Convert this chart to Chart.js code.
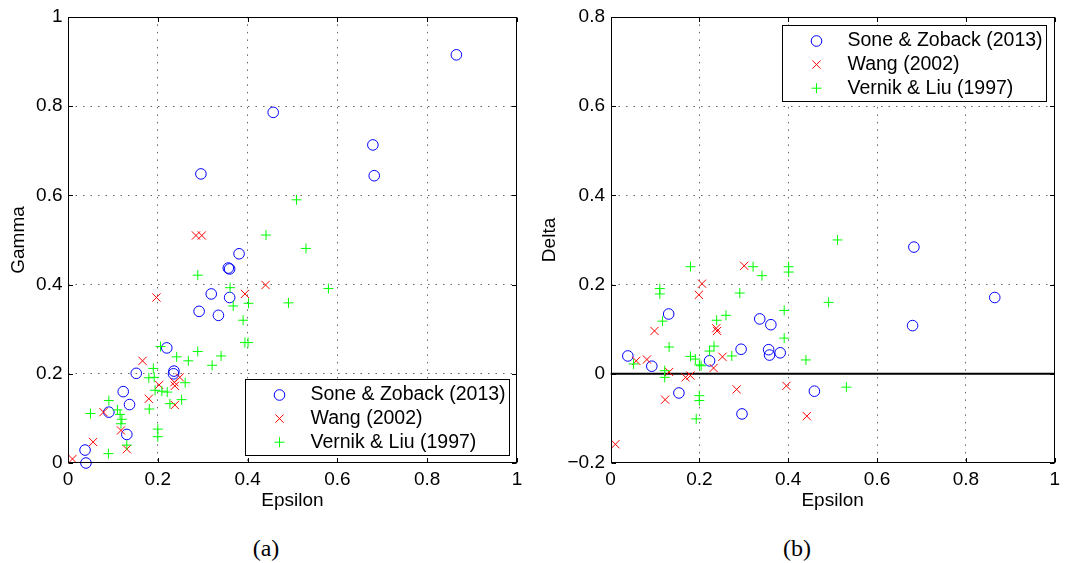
<!DOCTYPE html>
<html>
<head>
<meta charset="utf-8">
<script src="https://cdn.jsdelivr.net/npm/chart.js@4.4.1/dist/chart.umd.min.js"></script>
<style>
  body { margin: 0; background: #fff; width: 1065px; height: 563px; position: relative; overflow: hidden; }
  .panel { position: absolute; top: 0; }
  .caption { position: absolute; font-family: "Liberation Serif", serif; font-size: 24px; transform: translate(-50%, -50%); }
</style>
</head>
<body>
<div class="panel" style="left:0"><canvas id="plotA" width="535" height="520"></canvas></div>
<div class="panel" style="left:535px"><canvas id="plotB" width="530" height="520"></canvas></div>
<div class="caption" style="left:266px;top:548px">(a)</div>
<div class="caption" style="left:797px;top:548px">(b)</div>
<script>
// tick labels
var xTicks = [0, 0.2, 0.4, 0.6, 0.8, 1];
var gammaTicks = [0, 0.2, 0.4, 0.6, 0.8, 1];
var deltaTicks = [-0.2, 0, 0.2, 0.4, 0.6, 0.8];
var seriesNames = ['Sone & Zoback (2013)', 'Wang (2002)', 'Vernik & Liu (1997)'];

// (a) Epsilon / Gamma
var soneEpsA = [0.865, 0.457, 0.679, 0.682, 0.296, 0.381, 0.357, 0.360, 0.319, 0.360, 0.292, 0.335, 0.220, 0.236, 0.235, 0.152, 0.123, 0.137, 0.091, 0.131, 0.038, 0.040];
var soneGamma = [0.915, 0.786, 0.713, 0.644, 0.648, 0.469, 0.437, 0.435, 0.379, 0.371, 0.340, 0.331, 0.258, 0.206, 0.200, 0.201, 0.160, 0.131, 0.114, 0.064, 0.029, 0.000];
var wangEpsA = [0.285, 0.298, 0.440, 0.394, 0.197, 0.166, 0.249, 0.237, 0.238, 0.203, 0.180, 0.238, 0.079, 0.118, 0.131, 0.056, 0.010];
var wangGamma = [0.510, 0.510, 0.399, 0.379, 0.371, 0.229, 0.192, 0.181, 0.173, 0.175, 0.144, 0.130, 0.114, 0.073, 0.031, 0.047, 0.009];
var vernikEpsA = [0.509, 0.441, 0.530, 0.289, 0.580, 0.361, 0.491, 0.402, 0.368, 0.390, 0.394, 0.401, 0.206, 0.289, 0.341, 0.242, 0.268, 0.321, 0.190, 0.192, 0.180, 0.261, 0.194, 0.209, 0.221, 0.253, 0.227, 0.181, 0.091, 0.050, 0.110, 0.116, 0.120, 0.118, 0.200, 0.200, 0.131, 0.090];
var vernikGamma = [0.590, 0.511, 0.481, 0.421, 0.391, 0.393, 0.359, 0.358, 0.352, 0.320, 0.270, 0.270, 0.261, 0.250, 0.240, 0.238, 0.229, 0.219, 0.212, 0.192, 0.191, 0.180, 0.163, 0.161, 0.159, 0.142, 0.133, 0.121, 0.140, 0.111, 0.119, 0.109, 0.098, 0.088, 0.076, 0.059, 0.040, 0.021];

// (b) Epsilon / Delta
var soneEpsB = [0.865, 0.683, 0.680, 0.459, 0.382, 0.131, 0.039, 0.093, 0.154, 0.223, 0.294, 0.336, 0.361, 0.356, 0.358, 0.296];
var soneDelta = [0.171, 0.284, 0.108, -0.039, 0.047, 0.134, 0.040, 0.017, -0.043, 0.029, 0.055, 0.123, 0.110, 0.054, 0.042, -0.090];
var wangEpsB = [0.301, 0.206, 0.199, 0.099, 0.238, 0.240, 0.252, 0.058, 0.082, 0.132, 0.169, 0.180, 0.232, 0.284, 0.396, 0.123, 0.442, 0.011];
var wangDelta = [0.242, 0.202, 0.177, 0.096, 0.102, 0.096, 0.038, 0.029, 0.032, 0.004, -0.008, -0.004, 0.013, -0.035, -0.027, -0.058, -0.095, -0.158];
var vernikEpsB = [0.511, 0.180, 0.321, 0.341, 0.401, 0.401, 0.111, 0.111, 0.291, 0.491, 0.391, 0.260, 0.239, 0.117, 0.391, 0.132, 0.233, 0.223, 0.180, 0.191, 0.273, 0.440, 0.052, 0.200, 0.204, 0.122, 0.122, 0.200, 0.200, 0.193, 0.531];
var vernikDelta = [0.300, 0.240, 0.240, 0.220, 0.240, 0.228, 0.191, 0.179, 0.181, 0.160, 0.142, 0.131, 0.120, 0.118, 0.080, 0.060, 0.062, 0.051, 0.039, 0.033, 0.040, 0.031, 0.022, 0.020, 0.018, 0.007, -0.008, -0.049, -0.060, -0.101, -0.030];

var zeroLineEps = [0, 1];
var zeroLineDelta = [0, 0];

var fontFace = 'Liberation Sans, Arial, sans-serif';
var markers = [
    { pointStyle: 'circle', color: '#0000ff', radius: 5.3 },
    { pointStyle: 'crossRot', color: '#ff0000', radius: 5.8 },
    { pointStyle: 'cross', color: '#00ff00', radius: 5 }
];

function pts(xs, ys) {
    return xs.map(function (x, i) { return { x: x, y: ys[i] }; });
}

function fmt(v) {
    return String(Math.round(v * 10) / 10).replace('-', '\u2212');
}

function scatterSet(i, xs, ys) {
    var m = markers[i];
    return {
        type: 'scatter',
        label: seriesNames[i],
        data: pts(xs, ys),
        pointStyle: m.pointStyle,
        pointRadius: m.radius,
        pointBorderWidth: 1,
        borderColor: m.color,
        backgroundColor: 'rgba(0,0,0,0)',
        pointBorderColor: m.color,
        pointBackgroundColor: 'rgba(0,0,0,0)',
        order: 3 - i,
        clip: false
    };
}

var framePlugin = {
    id: 'frame',
    afterDatasetsDraw: function (chart) {
        var a = chart.chartArea, c = chart.ctx;
        var sx = chart.scales.x, sy = chart.scales.y;
        var L = Math.round(a.left) + 0.5, R = Math.round(a.right) - 0.5;
        var T = Math.round(a.top) + 0.5, B = Math.round(a.bottom) - 0.5;
        var tl = 4.5;
        c.save();
        c.strokeStyle = '#000';
        c.lineWidth = 1;
        c.strokeRect(L, T, R - L, B - T);
        c.beginPath();
        sx.ticks.forEach(function (t) {
            var px = Math.round(sx.getPixelForValue(t.value)) + 0.5;
            c.moveTo(px, B); c.lineTo(px, B - tl);
            c.moveTo(px, T); c.lineTo(px, T + tl);
        });
        sy.ticks.forEach(function (t) {
            var py = Math.round(sy.getPixelForValue(t.value)) + 0.5;
            c.moveTo(L, py); c.lineTo(L + tl, py);
            c.moveTo(R, py); c.lineTo(R - tl, py);
        });
        c.stroke();
        c.restore();
    },
    afterDraw: function (chart, args, opts) {
        var a = chart.chartArea, c = chart.ctx;
        var w = 264, h = 76, inset = 8.5;
        var left = Math.round(a.right - inset - w) + 0.5;
        var top = Math.round(opts.corner === 'top' ? a.top + inset : a.bottom - inset - h) + 0.5;
        c.save();
        c.fillStyle = '#fff';
        c.fillRect(left, top, w, h);
        c.strokeStyle = '#000';
        c.lineWidth = 1;
        c.strokeRect(left, top, w, h);
        var row = 0;
        chart.data.datasets.forEach(function (ds) {
            if (!ds.label) return;
            var y = top + 15.5 + row * 23.6;
            c.strokeStyle = ds.pointBorderColor;
            c.fillStyle = 'rgba(0,0,0,0)';
            c.lineWidth = 1;
            Chart.helpers.drawPoint(c, { pointStyle: ds.pointStyle, radius: ds.pointRadius, borderWidth: 1, rotation: 0 }, left + 34, y);
            c.fillStyle = '#000';
            c.font = '19.5px ' + fontFace;
            c.textAlign = 'left';
            c.textBaseline = 'middle';
            c.fillText(ds.label, left + 65, y);
            row++;
        });
        c.restore();
    }
};

function makePlot(id, datasets, yTicks, yTitle, yWidth, yTitlePad, padRight, corner) {
    var font = { family: fontFace, size: 19 };
    return new Chart(document.getElementById(id), {
        data: { datasets: datasets },
        plugins: [framePlugin],
        options: {
            responsive: false,
            animation: false,
            layout: { padding: { top: 14, right: padRight, bottom: 0, left: 0 } },
            plugins: {
                legend: { display: false },
                tooltip: { enabled: false },
                frame: { corner: corner }
            },
            scales: {
                x: {
                    type: 'linear',
                    min: xTicks[0],
                    max: xTicks[xTicks.length - 1],
                    afterBuildTicks: function (s) { s.ticks = xTicks.map(function (v) { return { value: v }; }); },
                    afterFit: function (s) { s.height = 57; },
                    ticks: { font: font, color: '#000', padding: 5, maxRotation: 0, autoSkip: false, callback: fmt },
                    grid: {
                        drawTicks: false,
                        color: function (ctx) {
                            var v = ctx.tick && ctx.tick.value;
                            return (v === xTicks[0] || v === xTicks[xTicks.length - 1]) ? 'rgba(0,0,0,0)' : 'rgba(0,0,0,0.6)';
                        }
                    },
                    border: { display: false, dash: [1.5, 6] },
                    title: { display: true, text: 'Epsilon', font: font, color: '#000', padding: { top: 0, bottom: 7.6 } }
                },
                y: {
                    type: 'linear',
                    min: yTicks[0],
                    max: yTicks[yTicks.length - 1],
                    afterBuildTicks: function (s) { s.ticks = yTicks.map(function (v) { return { value: v }; }); },
                    afterFit: function (s) { s.width = yWidth; },
                    ticks: { font: font, color: '#000', padding: 5.5, autoSkip: false, callback: fmt },
                    grid: {
                        drawTicks: false,
                        color: function (ctx) {
                            var v = ctx.tick && ctx.tick.value;
                            return (v === yTicks[0] || v === yTicks[yTicks.length - 1] || v === 0) ? 'rgba(0,0,0,0)' : 'rgba(0,0,0,0.6)';
                        }
                    },
                    border: { display: false, dash: [1.5, 6] },
                    title: { display: true, text: yTitle, font: font, color: '#000', padding: { top: yTitlePad, bottom: 0 } }
                }
            }
        }
    });
}

makePlot('plotA', [
    scatterSet(0, soneEpsA, soneGamma),
    scatterSet(1, wangEpsA, wangGamma),
    scatterSet(2, vernikEpsA, vernikGamma)
], gammaTicks, 'Gamma', 68, 7, 18, 'bottom');

makePlot('plotB', [
    scatterSet(0, soneEpsB, soneDelta),
    scatterSet(1, wangEpsB, wangDelta),
    scatterSet(2, vernikEpsB, vernikDelta),
    {
        type: 'line',
        data: pts(zeroLineEps, zeroLineDelta),
        borderColor: '#000',
        borderWidth: 2,
        pointRadius: 0,
        order: 5
    }
], deltaTicks, 'Delta', 75.5, 3, 6, 'top');
</script>
</body>
</html>
